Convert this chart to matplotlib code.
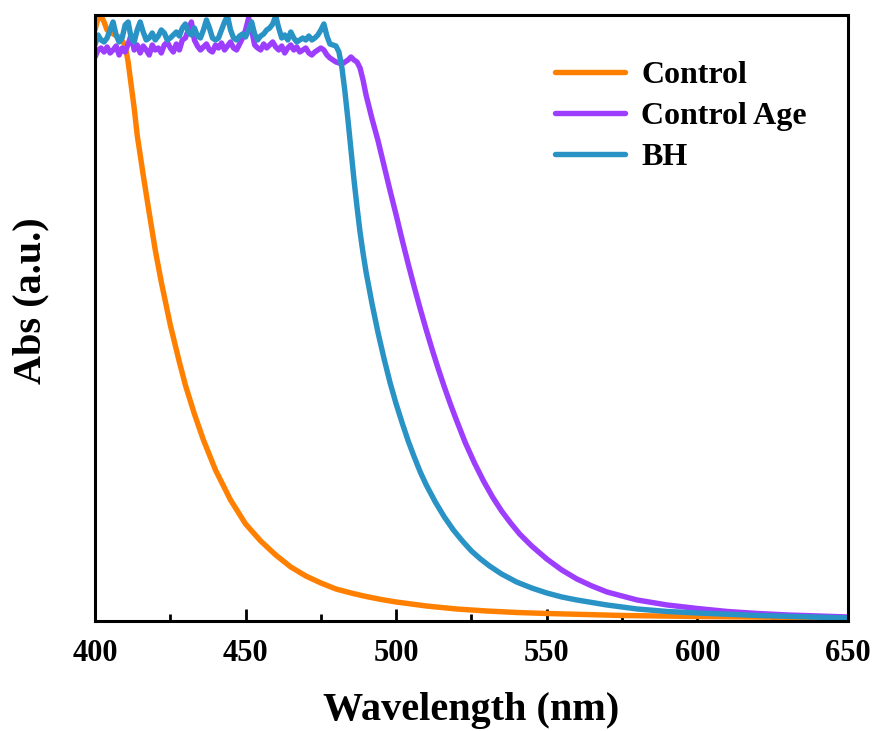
import matplotlib
matplotlib.use("Agg")
import matplotlib.pyplot as plt
from matplotlib.ticker import MultipleLocator

plt.rcParams['font.family'] = ['Liberation Serif', 'DejaVu Serif']
plt.rcParams['font.weight'] = 'bold'

# converted to arbitrary absorbance units 0..1 below.
ctrl_wl = [400, 401, 402, 403, 404, 406, 408, 410, 411, 412, 413, 414, 415, 416, 418, 420,
           422, 425, 428, 430, 433, 436, 440, 445, 450, 455, 460, 465, 470, 475, 480, 485,
           490, 495, 500, 510, 520, 530, 540, 550, 575, 600, 650]
ctrl_px = [30, 18, 16, 22, 30, 34, 37, 45, 62, 85, 108, 135, 155, 175, 213, 250,
           282, 325, 362, 385, 414, 440, 470, 500, 524, 541, 555, 567, 576, 583, 589, 593,
           596.5, 599.5, 602, 606, 609, 611, 612.5, 613.5, 615.5, 616.5, 618]

age_wl = list(range(400, 494)) + [494, 496, 498, 500, 502, 504, 506, 508, 510, 512, 514,
                                  516, 518, 520, 523, 526, 529, 532, 535, 538, 541, 545,
                                  550, 555, 560, 565, 570, 575, 580, 590, 600, 610, 620,
                                  630, 640, 650]
age_px = [57, 50, 48, 52, 47, 53, 50, 46, 55, 48, 52, 44, 35, 50, 45, 53, 46, 50, 55, 45,
          50, 48, 53, 45, 42, 48, 52, 44, 50, 40, 38, 30, 22, 40, 46, 50, 47, 44, 50, 52,
          45, 48, 43, 50, 46, 42, 48, 50, 44, 38, 30, 18, 30, 45, 48, 50, 44, 48, 45, 42,
          47, 50, 46, 53, 48, 45, 50, 47, 52, 50, 48, 53, 55, 52, 50, 48, 50, 55, 58, 60,
          62, 63, 64, 62, 60, 57, 60, 62, 68, 80, 95, 107, 119, 130,
          141, 166, 191, 215, 240, 264, 287, 309, 330, 350, 369,
          387, 404, 420, 443, 463, 481, 497, 511, 523, 534, 546,
          559, 570, 579, 586, 592, 596, 600, 605, 608.5, 611.5, 613.5,
          615, 616, 617]

bh_wl = list(range(400, 490)) + [490, 492, 494, 496, 498, 500, 502, 504, 506, 508, 510,
                                 513, 516, 519, 522, 525, 528, 531, 535, 540, 545, 550,
                                 555, 560, 570, 580, 590, 600, 620, 650]
bh_px = [45, 35, 40, 42, 38, 30, 22, 35, 42, 38, 25, 22, 38, 42, 30, 22, 32, 40, 38, 33,
         40, 36, 30, 33, 40, 38, 35, 32, 36, 28, 24, 32, 35, 28, 36, 38, 30, 20, 28, 38,
         40, 38, 30, 22, 16, 30, 38, 40, 36, 34, 37, 30, 22, 34, 40, 36, 34, 30, 28, 24,
         16, 28, 38, 35, 40, 32, 38, 42, 40, 38, 40, 36, 40, 38, 35, 30, 24, 36, 44, 45,
         46, 52, 68, 92, 120, 150, 180, 207, 232, 253,
         272, 304, 333, 359, 383, 404, 423, 441, 457, 472, 485,
         502, 517, 530, 541, 551, 559, 566, 574, 582, 588, 593,
         597, 600, 605, 609, 611.5, 613, 615.5, 618]

ctrl_abs = [(621 - p) / 606 for p in ctrl_px]
age_abs = [(621 - p) / 606 for p in age_px]
bh_abs = [(621 - p) / 606 for p in bh_px]

labels = ["Control", "Control Age", "BH"]
colors = ["#FF8000", "#9D3EFF", "#2A93C5"]

fig = plt.figure(figsize=(8.75, 7.31), dpi=100)
ax = fig.add_axes([0.1086, 0.1505, 0.8604, 0.829])

lw = 3.9
ax.plot(ctrl_wl, ctrl_abs, color=colors[0], lw=lw, label=labels[0],
        solid_capstyle='round', solid_joinstyle='round')
ax.plot(age_wl, age_abs, color=colors[1], lw=lw, label=labels[1],
        solid_capstyle='round', solid_joinstyle='round')
ax.plot(bh_wl, bh_abs, color=colors[2], lw=lw, label=labels[2],
        solid_capstyle='round', solid_joinstyle='round')

ax.set_xlim(400, 650)
ax.set_ylim(0, 1)
ax.xaxis.set_major_locator(MultipleLocator(50))
ax.xaxis.set_minor_locator(MultipleLocator(25))
ax.tick_params(axis='x', which='major', direction='in', length=9, width=2, labelsize=22, pad=13)
ax.tick_params(axis='x', which='minor', direction='in', length=5, width=2)
ax.set_yticks([])
for s in ax.spines.values():
    s.set_linewidth(2.2)
for t in ax.get_xticklabels():
    t.set_fontweight('bold')

ax.set_xlabel("Wavelength (nm)", fontsize=29, fontweight='bold', labelpad=17)
ax.set_ylabel("Abs (a.u.)", fontsize=29, fontweight='bold')
ax.yaxis.set_label_coords(-0.06, 0.528)

leg = ax.legend(loc='upper right', bbox_to_anchor=(0.984, 0.972), frameon=False,
                prop={'size': 23, 'weight': 'bold'}, handlelength=2.2, handletextpad=0.5,
                labelspacing=0.36)

fig.savefig("out.png", dpi=100)
